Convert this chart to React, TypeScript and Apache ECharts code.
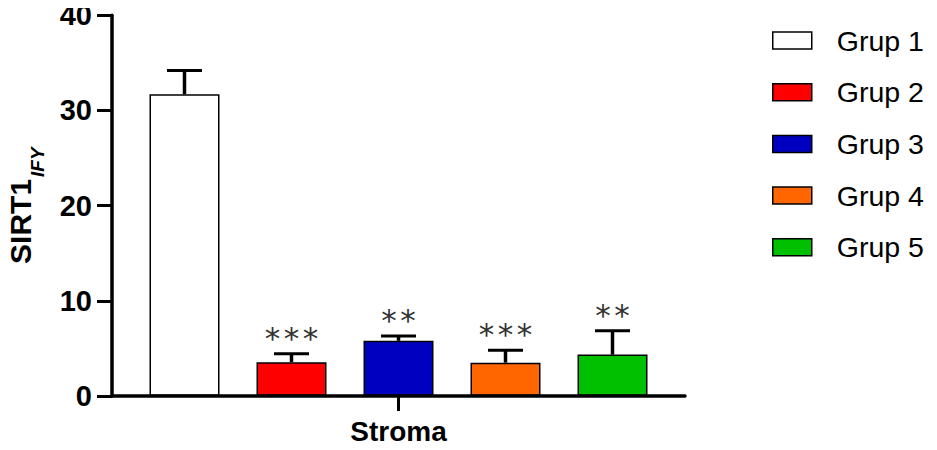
import React, { useEffect, useRef } from "react";
import * as echarts from "echarts";

const categories = ["Stroma"];
const groupNames = ["Grup 1", "Grup 2", "Grup 3", "Grup 4", "Grup 5"];
const means = [31.7, 3.55, 5.8, 3.5, 4.35];
const errors = [2.5, 0.9, 0.5, 1.3, 2.5];
const stars = ["", "***", "**", "***", "**"];
const colors = ["#FFFFFF", "#FF0000", "#0000C0", "#FF6600", "#00C000"];
const yMin = 0;
const yMax = 40;
const yInterval = 10;

const BAR_W = 70;
const BAR_GAP = 37;
const FONT = '"Liberation Sans", Arial, sans-serif';
const LEGEND_FS = 28.5;

export default function App() {
  const ref = useRef<HTMLDivElement>(null);
  useEffect(() => {
    if (!ref.current) return;
    const chart = echarts.init(ref.current, null, { renderer: "svg" });
    const n = groupNames.length;
    const pitch = BAR_W + BAR_GAP;
    const barSeries = groupNames.map((name, i) => ({
      name,
      type: "bar",
      data: [means[i]],
      barWidth: BAR_W,
      barGap: (BAR_GAP / BAR_W) * 100 + "%",
      itemStyle: { color: colors[i], borderColor: "#000", borderWidth: 1.5 },
      z: 2,
    }));
    const errSeries = {
      name: "err",
      type: "custom",
      z: 5,
      data: groupNames.map((_, i) => [0, means[i], errors[i], i]),
      renderItem: (params: any, api: any) => {
        const i = api.value(3);
        const mean = api.value(1);
        const err = api.value(2);
        const base = api.coord([api.value(0), mean]);
        const top = api.coord([api.value(0), mean + err]);
        const x = base[0] + (i - (n - 1) / 2) * pitch;
        const half = BAR_W / 4;
        const children: any[] = [
          {
            type: "line",
            shape: { x1: x, y1: base[1], x2: x, y2: top[1] },
            style: { stroke: "#000", lineWidth: 3.5 },
          },
          {
            type: "line",
            shape: { x1: x - half, y1: top[1], x2: x + half, y2: top[1] },
            style: { stroke: "#000", lineWidth: 3 },
          },
        ];
        const s = stars[i] || "";
        const starPitch = 19;
        for (let k = 0; k < s.length; k++) {
          children.push({
            type: "text",
            style: {
              text: "*",
              x: x + (k - (s.length - 1) / 2) * starPitch,
              y: top[1] - 22 + 6,
              font: '31px "DejaVu Sans"',
              fill: "#333",
              align: "center",
              verticalAlign: "middle",
            },
          });
        }
        return { type: "group", children };
      },
    };
    chart.setOption({
      animation: false,
      backgroundColor: "#fff",
      grid: { left: 112, right: 252, top: 15.3, bottom: 54, containLabel: false, outerBoundsMode: "none" },
      legend: {
        data: groupNames,
        orient: "vertical",
        left: 772,
        top: 26,
        itemWidth: 39,
        itemHeight: 17,
        itemGap: 51.2 - LEGEND_FS,
        icon: "rect",
        padding: 0,
        itemStyle: { borderColor: "#000", borderWidth: 1.5 },
        textStyle: {
          fontSize: LEGEND_FS,
          fontFamily: FONT,
          color: "#000",
          padding: [0, 0, 0, 20],
        },
      },
      xAxis: {
        type: "category",
        data: categories,
        axisLine: { show: true, lineStyle: { color: "#000", width: 3.5 } },
        axisTick: { show: true, alignWithLabel: true, length: 15, lineStyle: { color: "#000", width: 3 } },
        axisLabel: { fontSize: 28, fontWeight: "bold", fontFamily: FONT, color: "#000", margin: 21 },
        splitLine: { show: false },
        z: 10,
      },
      yAxis: {
        type: "value",
        min: yMin,
        max: yMax,
        interval: yInterval,
        name: "{m|SIRT1}{s|IFY}",
        nameLocation: "middle",
        nameRotate: 90,
        nameGap: 65,
        nameTextStyle: {
          rich: {
            m: { fontSize: 30, fontWeight: "bold", fontFamily: FONT, color: "#000", lineHeight: 32, verticalAlign: "top" },
            s: {
              fontSize: 19,
              fontWeight: "bold",
              fontStyle: "italic",
              fontFamily: FONT,
              color: "#000",
              lineHeight: 42,
              verticalAlign: "bottom",
              padding: [0, 0, 0, 2],
            },
          },
        },
        axisLine: { show: true, lineStyle: { color: "#000", width: 3.5 } },
        axisTick: { show: true, length: 15, lineStyle: { color: "#000", width: 3 } },
        axisLabel: { fontSize: 29, fontWeight: "bold", fontFamily: FONT, color: "#000", margin: 20 },
        splitLine: { show: false },
        z: 10,
      },
      series: [...barSeries, errSeries],
    });
    return () => chart.dispose();
  }, []);
  return <div ref={ref} style={{ width: 937, height: 450, margin: -8 }} />;
}
